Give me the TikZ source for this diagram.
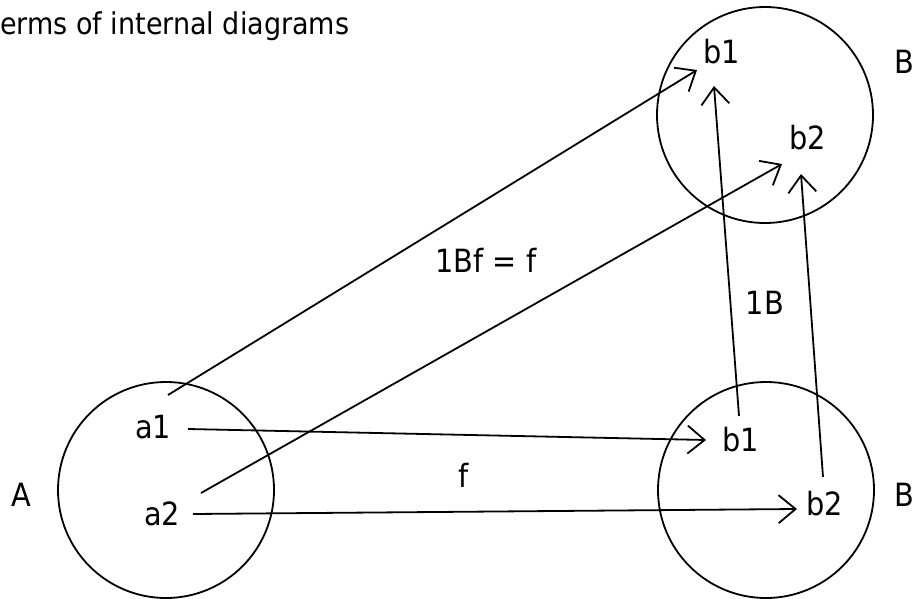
\documentclass[tikz,border=0pt]{standalone}
\usepackage{fontspec}
\setmainfont{DejaVu Sans Condensed}
\usetikzlibrary{arrows.meta, calc}
\newcommand{\elemfont}{\fontsize{32}{38}\selectfont}
\newcommand{\titlefont}{\fontsize{30}{36}\selectfont}
\tikzset{
  setcirc/.style={
    draw, circle, minimum size=216pt, inner sep=0pt, line width=1.8pt
  },
  elem/.style={
    inner sep=0pt, font=\elemfont
  },
  maparr/.style={
    -{Straight Barb[length=17pt, width=28pt]}, line width=1.8pt
  },
}
\begin{document}
\begin{tikzpicture}[x=1pt, y=-1pt]
\useasboundingbox (0,0) rectangle (915,599);

% ── Sets ───────────────────────────────────────────────────────────────────
\node[setcirc] (setA)  at (166,490) {};
\node[setcirc] (setB)  at (766,490) {};
\node[setcirc] (setTB) at (765,115) {};

\node[elem] (nameA)  at (21,495)  {A};
\node[elem] (nameB)  at (904,495) {B};
\node[elem] (nameTB) at (904,62)  {B};

% ── Elements ───────────────────────────────────────────────────────────────
\node[elem] (a1)  at (153,427) {a1};
\node[elem] (a2)  at (162,514) {a2};
\node[elem] (b1)  at (741,440) {b1};
\node[elem] (b2)  at (825,504) {b2};
\node[elem] (tb1) at (722,52)  {b1};
\node[elem] (tb2) at (808,138) {b2};

% ── Labels ─────────────────────────────────────────────────────────────────
\node[elem, font=\titlefont, anchor=base west] (title) at (0,35) {erms of internal diagrams};
\node[elem] (lblf)   at (464,475) {f};
\node[elem] (lblcmp) at (486,260) {1Bf = f};
\node[elem] (lblid)  at (765,303) {1B};

% ── Maps ───────────────────────────────────────────────────────────────────
% f : A -> B
\draw[maparr] ([shift={(35,2)}]a1.center) -- ([shift={(-35,0)}]b1.center);
\draw[maparr] ([shift={(31,0)}]a2.center) -- ([shift={(-28,5)}]b2.center);

% 1B f : A -> B
\draw[maparr] ([shift={(15,-32)}]a1.center) -- ([shift={(-25,18)}]tb1.center);
\draw[maparr] ([shift={(39,-21)}]a2.center) -- ([shift={(-26,26)}]tb2.center);

% 1B : B -> B
\draw[maparr] ([shift={(-2,-24)}]b1.center) -- ([shift={(-8,34)}]tb1.center);
\draw[maparr] ([shift={(-2,-27)}]b2.center) -- ([shift={(-7,36)}]tb2.center);

\end{tikzpicture}
\end{document}
